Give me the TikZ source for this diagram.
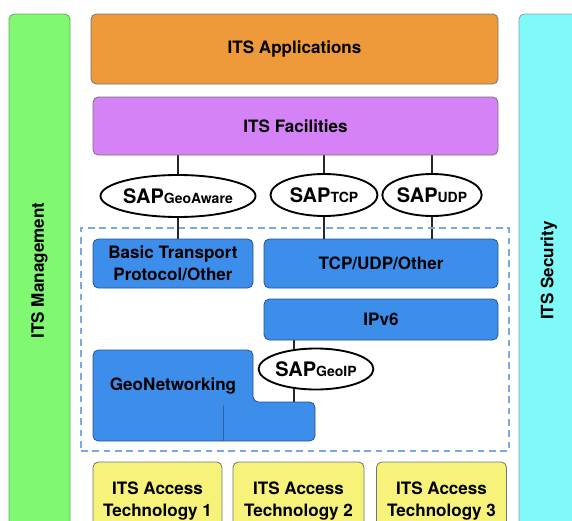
\documentclass[tikz,border=0pt]{standalone}
\usepackage{fontspec}
\setmainfont{TeX Gyre Heros}
\usetikzlibrary{shapes.geometric,backgrounds}

\definecolor{mgmtgreen}{HTML}{80F872}
\definecolor{secucyan}{HTML}{80FAF8}
\definecolor{apporange}{HTML}{EE9A3A}
\definecolor{facviolet}{HTML}{D682F7}
\definecolor{netblue}{HTML}{3D8EEA}
\definecolor{accyellow}{HTML}{F6F27A}
\definecolor{dashblue}{HTML}{7AAAE2}

\newcommand{\saplabel}[1]{{\fontsize{15}{15}\selectfont SAP}{\fontsize{10.5}{10.5}\selectfont #1}}

\tikzset{
  layer/.style={draw=black!55, line width=0.6pt, rounded corners=4pt, inner sep=0pt, align=center,
    font=\bfseries\fontsize{12.8}{16.5}\selectfont},
  sap/.style={draw, ellipse, fill=white, line width=1.4pt, inner sep=0pt, font=\bfseries},
  link/.style={line width=1.4pt, black!85},
}

\begin{document}
\begin{tikzpicture}[x=0.75pt, y=-0.75pt]
    \useasboundingbox (0,0) rectangle (572,521);
    \clip (0,0) rectangle (572,521);

    % side columns
    \node (mgmt) [layer, fill=mgmtgreen, draw=green!40!black!60, minimum width=45.75pt, minimum height=384.75pt] at (39.5,270.5) {};
    \node [rotate=90, font=\bfseries\fontsize{12.8}{16.5}\selectfont] at (mgmt.center) {ITS Management};
    \node (secu) [layer, fill=secucyan, draw=cyan!40!black!60, minimum width=45pt, minimum height=384.75pt] at (549,270.5) {};
    \node [rotate=90, font=\bfseries\fontsize{12.8}{16.5}\selectfont] at (secu.center) {ITS Security};

    % upper layers
    \node (app) [layer, fill=apporange, minimum width=305.25pt, minimum height=52.5pt] at (294.5,49) {ITS Applications};
    \node (fac) [layer, fill=facviolet, minimum width=303.75pt, minimum height=43.5pt] at (295.5,126) {ITS Facilities};

    % networking and transport
    \node (netbox) [draw=dashblue, dashed, dash pattern=on 5pt off 3.5pt, line width=1.1pt, inner sep=0pt, minimum width=321pt, minimum height=167.25pt] at (295,339.5) {};
    \node (btp) [layer, fill=netblue, draw=netblue!60!black, minimum width=120pt, minimum height=36.75pt] at (173,263.5) {Basic Transport\\Protocol/Other};
    \node (tcp) [layer, fill=netblue, draw=netblue!60!black, minimum width=175.5pt, minimum height=36.75pt] at (381,263.5) {TCP/UDP/Other};
    \node (ipv6) [layer, fill=netblue, draw=netblue!60!black, minimum width=175.5pt, minimum height=30.75pt] at (381,319.5) {IPv6};

    \draw [layer, fill=netblue, draw=netblue!60!black] (93,350) -- (253,350) -- (253,402) -- (315,402) -- (315,441) -- (93,441) -- cycle;
    \draw [netblue!70!black, line width=0.5pt] (223,405) -- (223,441);
    \node (geonet) [font=\bfseries\fontsize{12.8}{16.5}\selectfont] at (173,386) {GeoNetworking};
    \coordinate (geostep) at (294,402);

    % service access points
    \node (gaw) [sap, minimum width=101.25pt, minimum height=31.5pt] at (178,196) {\saplabel{GeoAware}};
    \node (sapt) [sap, minimum width=80.25pt, minimum height=31.5pt] at (324,195) {\saplabel{TCP}};
    \node (sapu) [sap, minimum width=69pt, minimum height=31.5pt] at (432,195) {\saplabel{UDP}};
    \node (gip) [sap, minimum width=80.25pt, minimum height=30.75pt] at (316,369) {\saplabel{GeoIP}};

    % access technologies
    \node (acc1) [layer, fill=accyellow, minimum width=96.75pt, minimum height=58.5pt] at (157.5,501) {ITS Access\\Technology 1};
    \node (acc2) [layer, fill=accyellow, minimum width=98.25pt, minimum height=58.5pt] at (298.5,501) {ITS Access\\Technology 2};
    \node (acc3) [layer, fill=accyellow, minimum width=97.5pt, minimum height=58.5pt] at (441.5,501) {ITS Access\\Technology 3};

    \begin{scope}[on background layer]
        \draw [link] (fac.south -| gaw) -- (btp.north -| gaw);
        \draw [link] (fac.south -| sapt) -- (tcp.north -| sapt);
        \draw [link] (fac.south -| sapu) -- (tcp.north -| sapu);
        \draw [link] (ipv6.south -| geostep) -- (geostep);
    \end{scope}
\end{tikzpicture}
\end{document}
